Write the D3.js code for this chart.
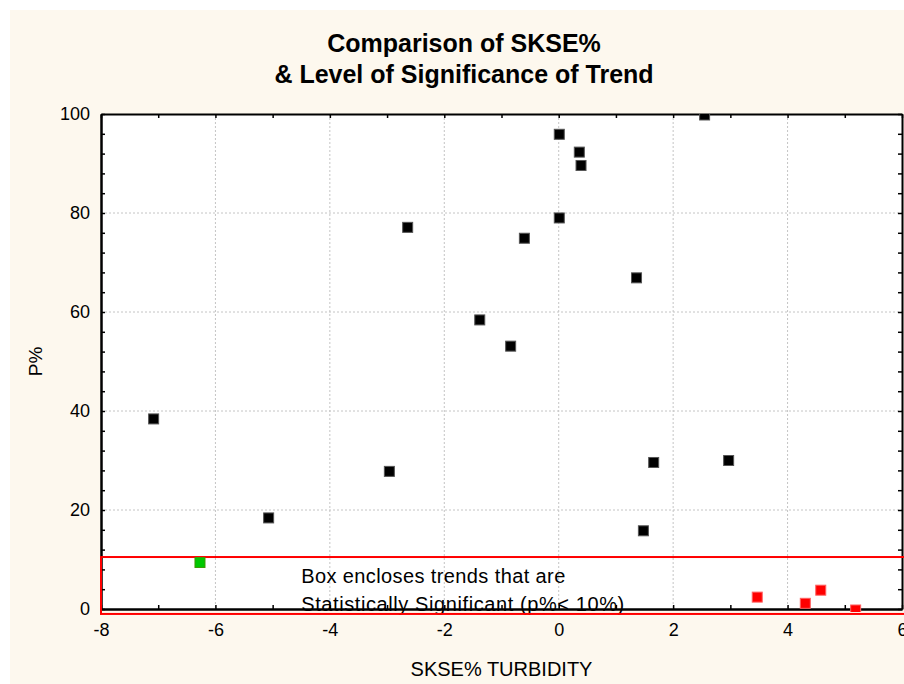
<!DOCTYPE html>
<html lang="en">
<head>
    <meta charset="UTF-8">
    <title>Comparison of SKSE% &amp; Level of Significance of Trend</title>
    <script src="https://d3js.org/d3.v7.min.js"></script>
    <style>
        body { margin: 0; background: #ffffff; }
        svg text { font-family: "Liberation Sans", Arial, sans-serif; fill: #000; }
    </style>
</head>
<body>
<div id="chart"></div>
<script>
// values
var blackX = [-7.08, -5.07, -2.96, -2.64, -1.38, -0.84, -0.60, 0.01, 0.01, 0.36, 0.39, 1.36, 1.48, 1.66, 2.55, 2.97];
var blackY = [38.4, 18.4, 27.8, 77.1, 58.4, 53.1, 74.9, 95.9, 79.0, 92.3, 89.6, 66.9, 15.8, 29.6, 99.8, 30.0];
var greenX = [-6.27];
var greenY = [9.4];
var redX = [3.47, 4.31, 4.58, 5.19];
var redY = [2.4, 1.15, 3.8, -0.2];

var xTicks = [-8, -6, -4, -2, 0, 2, 4, 6];
var xMinor = [-7, -5, -3, -1, 1, 3, 5];
var yTicks = [0, 20, 40, 60, 80, 100];
var yMinor = d3.range(4, 100, 4).filter(function(v) { return v % 20 !== 0; });

var W = 904, H = 684;
var svg = d3.select("#chart").append("svg").attr("width", W).attr("height", H);

// cream panel
svg.append("rect").attr("x", 10).attr("y", 10).attr("width", W - 10).attr("height", H - 10)
    .attr("fill", "#fdf8ee");

var x = d3.scaleLinear().domain([-8, 6]).range([101, 902]);
var y = d3.scaleLinear().domain([0, 100]).range([609, 114]);

// plot area
svg.append("rect").attr("x", x(-8)).attr("y", y(100))
    .attr("width", x(6) - x(-8)).attr("height", y(0) - y(100)).attr("fill", "#fff");

// title
var title = svg.append("text").attr("text-anchor", "middle")
    .style("font-size", "25px").style("font-weight", "bold");
title.append("tspan").attr("x", 464).attr("y", 52).text("Comparison of SKSE%");
title.append("tspan").attr("x", 464).attr("y", 83).text("& Level of Significance of Trend");

// dotted grid
svg.append("g").selectAll("line").data(xTicks.slice(1, -1)).enter().append("line")
    .attr("x1", function(d) { return x(d); }).attr("x2", function(d) { return x(d); })
    .attr("y1", y(100)).attr("y2", y(0))
    .attr("stroke", "#c4c4c4").attr("stroke-dasharray", "2,2");
svg.append("g").selectAll("line").data(yTicks.slice(1, -1)).enter().append("line")
    .attr("x1", x(-8)).attr("x2", x(6))
    .attr("y1", function(d) { return y(d); }).attr("y2", function(d) { return y(d); })
    .attr("stroke", "#c4c4c4").attr("stroke-dasharray", "2,2");

// box text
var note = svg.append("text").style("font-size", "20px");
note.append("tspan").attr("x", x(-4.5)).attr("y", y(5.3))
    .attr("textLength", 264).attr("lengthAdjust", "spacing").text("Box encloses trends that are");
note.append("tspan").attr("x", x(-4.5)).attr("y", y(-0.4))
    .attr("textLength", 323).attr("lengthAdjust", "spacing").text("Statistically Significant (p%< 10%)");

// axes
function styleAxis(g) {
    g.select(".domain").attr("stroke", "#000").attr("stroke-width", 2);
    g.selectAll(".tick line").attr("stroke", "#000").attr("stroke-width", 1.5);
    g.selectAll(".tick text").style("font-size", "18px");
}
var fmt = function(d) { return String(d); };

svg.append("g").attr("transform", "translate(0," + y(0) + ")")
    .call(d3.axisBottom(x).tickValues(xTicks).tickFormat(fmt).tickSize(-4).tickSizeOuter(0).tickPadding(14))
    .call(styleAxis);
svg.append("g").attr("transform", "translate(0," + y(0) + ")")
    .call(d3.axisBottom(x).tickValues(xMinor).tickFormat("").tickSize(-4).tickSizeOuter(0))
    .call(styleAxis);
svg.append("g").attr("transform", "translate(0," + y(100) + ")")
    .call(d3.axisTop(x).tickValues(xMinor.concat(xTicks)).tickFormat("").tickSize(-4).tickSizeOuter(0))
    .call(styleAxis);
svg.append("g").attr("transform", "translate(" + x(-8) + ",0)")
    .call(d3.axisLeft(y).tickValues(yTicks).tickFormat(fmt).tickSize(-4).tickSizeOuter(0).tickPadding(11))
    .call(styleAxis);
svg.append("g").attr("transform", "translate(" + x(-8) + ",0)")
    .call(d3.axisLeft(y).tickValues(yMinor).tickFormat("").tickSize(-4).tickSizeOuter(0))
    .call(styleAxis);
svg.append("g").attr("transform", "translate(" + x(6) + ",0)")
    .call(d3.axisRight(y).tickValues(yMinor.concat(yTicks)).tickFormat("").tickSize(-4).tickSizeOuter(0))
    .call(styleAxis);

// axis titles
svg.append("text").attr("x", (x(-8) + x(6)) / 2).attr("y", 676).attr("text-anchor", "middle")
    .style("font-size", "20px").text("SKSE% TURBIDITY");
svg.append("text").attr("transform", "translate(42," + y(50) + ") rotate(-90)")
    .attr("text-anchor", "middle").style("font-size", "19px").text("P%");

// significance box
svg.append("rect").attr("x", x(-8)).attr("y", y(10.5))
    .attr("width", x(6.2) - x(-8)).attr("height", y(-1) - y(10.5))
    .attr("fill", "none").attr("stroke", "#ff0000").attr("stroke-width", 2);

// points
svg.append("clipPath").attr("id", "clip").append("rect")
    .attr("x", 0).attr("y", y(100)).attr("width", W).attr("height", y(0) - y(100) + 3);
var pts = svg.append("g").attr("clip-path", "url(#clip)");

function drawSquares(xs, ys, fill, edge) {
    pts.append("g").selectAll("rect").data(xs).enter().append("rect")
        .attr("x", function(d) { return x(d) - 5; })
        .attr("y", function(d, i) { return y(ys[i]) - 5; })
        .attr("width", 10).attr("height", 10)
        .attr("fill", fill).attr("stroke", edge).attr("stroke-width", 1);
}
drawSquares(blackX, blackY, "#000", "#555");
drawSquares(greenX, greenY, "#00c800", "#3a9a00");
drawSquares(redX, redY, "#ff0000", "#ff6060");
</script>
</body>
</html>
